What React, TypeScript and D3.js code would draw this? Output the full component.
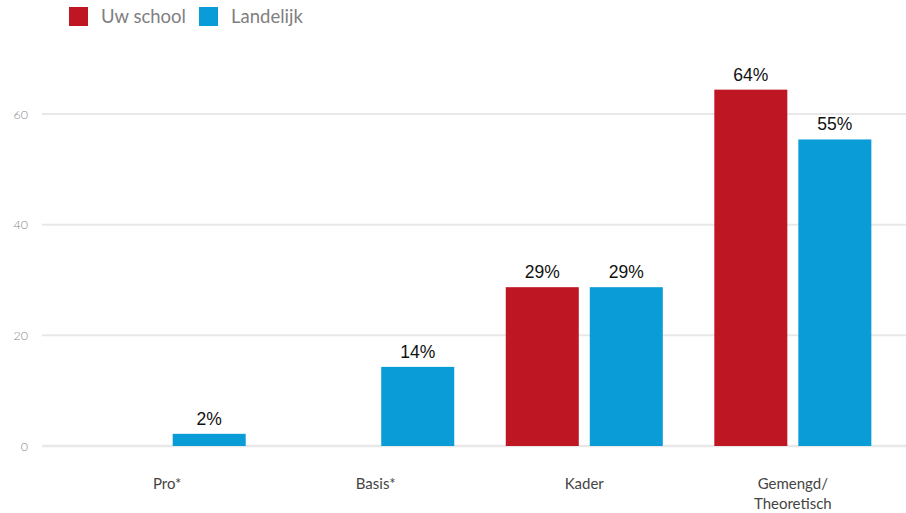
import React from 'react'
import * as d3 from 'd3'

const categories = ['Pro*', 'Basis*', 'Kader', 'Gemengd/\nTheoretisch']
const seriesNames = ['Uw school', 'Landelijk']
const uwSchool = [null, null, 28.7, 64.4]
const landelijk = [2.2, 14.3, 28.7, 55.4]
const valueLabels = [
  [null, null, '29%', '64%'],
  ['2%', '14%', '29%', '55%'],
]
const yTicks = [0, 20, 40, 60]
const colors = ['#be1622', '#0a9cd7']

const width = 906
const height = 513

const App = () => {
  const x = d3.scaleBand<string>().domain(categories).range([63, 897]).paddingInner(0.247).paddingOuter(0.123)
  const x1 = d3.scaleBand<string>().domain(seriesNames).range([0, x.bandwidth()]).paddingInner(0.131)
  const y = d3.scaleLinear().domain([0, 60]).range([446, 114])
  const series = [uwSchool, landelijk]

  return (
    <svg width={width} height={height} style={{ position: 'absolute', left: 0, top: 0 }}>
      <rect width={width} height={height} fill='#fff' />
      {/* legend */}
      {seriesNames.map((name, i) => {
        const lx = i === 0 ? 69 : 199
        return (
          <g key={name}>
            <rect x={lx} y={7} width={19} height={19} fill={colors[i]} />
            <text x={lx + 32} y={23} fontFamily='Lato, sans-serif' fontSize={18.5} fill='#808080'>
              {name}
            </text>
          </g>
        )
      })}
      {/* grid */}
      {yTicks.map((t) => (
        <g key={t}>
          <line x1={42} x2={906} y1={y(t)} y2={y(t)} stroke='#e8e8e8' strokeWidth={t === 0 ? 2.5 : 2} />
          <text x={28} y={y(t) + 4.5} textAnchor='end' fontFamily='Lato, sans-serif' fontWeight={300} fontSize={12.5} fill='#888'>
            {t}
          </text>
        </g>
      ))}
      {/* bars */}
      {series.map((vals, si) =>
        vals.map((v, ci) => {
          if (v == null) return null
          const bx = (x(categories[ci]) ?? 0) + (x1(seriesNames[si]) ?? 0)
          const bw = x1.bandwidth()
          return (
            <g key={`${si}-${ci}`}>
              <rect x={bx} y={y(v)} width={bw} height={y(0) - y(v)} fill={colors[si]} />
              <text x={bx + bw / 2} y={y(v) - 9} textAnchor='middle' fontFamily='"Liberation Sans", Arial, sans-serif' fontSize={17.5} fill='#111'>
                {valueLabels[si][ci]}
              </text>
            </g>
          )
        })
      )}
      {/* category labels */}
      {categories.map((c) => (
        <text key={c} x={(x(c) ?? 0) + x.bandwidth() / 2} y={489} textAnchor='middle' fontFamily='Lato, sans-serif' fontSize={15} fill='#444'>
          {c.split('\n').map((line, li) => (
            <tspan key={li} x={(x(c) ?? 0) + x.bandwidth() / 2} dy={li === 0 ? 0 : 20}>
              {line}
            </tspan>
          ))}
        </text>
      ))}
    </svg>
  )
}

export default App
